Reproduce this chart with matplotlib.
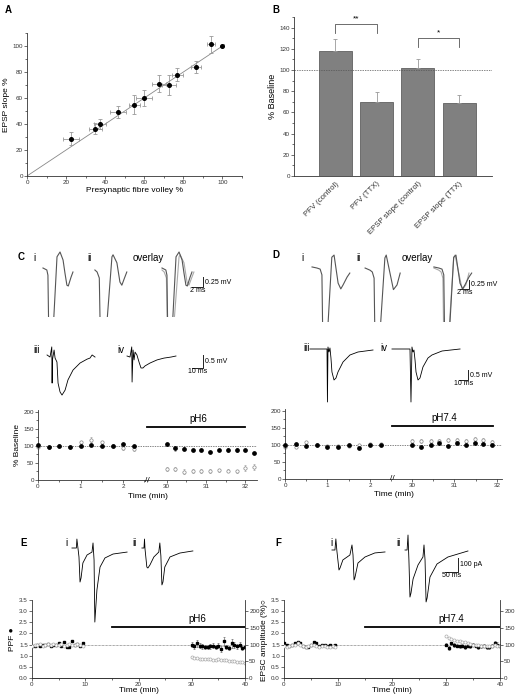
import numpy as np
import matplotlib
matplotlib.use('Agg')
import matplotlib.pyplot as plt
from matplotlib.ticker import MultipleLocator, FormatStrFormatter

plt.rcParams['font.family'] = ['Liberation Sans', 'DejaVu Sans']
plt.rcParams['font.size'] = 5
plt.rcParams['axes.linewidth'] = 0.6
plt.rcParams['axes.edgecolor'] = '#333333'

# ---------------- data ----------------
# A: EPSP slope vs presynaptic fibre volley
pfv = [22.5, 35, 37.5, 46.5, 55, 60, 67.5, 72.5, 77, 86.5, 94, 100]
pfv_err = [4, 3.5, 3, 4, 3, 4, 3.5, 3.5, 3, 2.5, 2, 0]
epsp = [28.5, 36.5, 40, 49.5, 55, 60, 71, 70, 78, 84, 101.5, 100]
epsp_err = [5, 4.5, 3.5, 4.5, 7.5, 6.5, 6.5, 7.5, 5, 4.5, 6.5, 0]
unity_x = [0, 101]
unity_y = [0, 101]

# B: % baseline bars
bar_labels = ['PFV (control)', 'PFV (TTX)', 'EPSP slope (control)', 'EPSP slope (TTX)']
bar_vals = [118, 70, 102, 69]
bar_errs = [11, 9, 8, 7]
sig_pairs = [(0, 1, '**', 143), (2, 3, '*', 130)]

# C / D: time courses (filled = EPSP slope, open = PFV)
t_pre = [0, 0.25, 0.5, 0.75, 1.0, 1.25, 1.5, 1.75, 2.0, 2.25]
c_fill_pre = [103, 97, 99, 96, 101, 102, 101, 101, 105, 101]
c_open_pre = [98, 96, 101, 97, 110, 118, 110, 101, 93, 90]
c_open_pre_err = [4, 4, 3, 3, 5, 8, 5, 3, 5, 4]
c_t_post = [30, 30.22, 30.43, 30.68, 30.88, 31.1, 31.32, 31.56, 31.78, 32.0, 32.23]
c_fill_post = [104, 93, 92, 89, 87, 82, 87, 87, 88, 88, 78]
c_fill_post_err = [3, 7, 4, 3, 3, 3, 3, 6, 6, 4, 3]
c_open_post = [32, 31, 24, 26, 26, 27, 28, 27, 25, 35, 38]
c_open_post_err = [5, 6, 7, 6, 6, 6, 5, 5, 5, 10, 9]

d_fill_pre = [100, 102, 98, 100, 95, 94, 100, 90, 100, 100]
d_open_pre = [94, 94, 108, 100, 97, 97, 97, 100, 102, 102]
d_open_pre_err = [3, 3, 4, 2, 3, 3, 3, 3, 3, 3]
d_t_post = [30, 30.21, 30.45, 30.64, 30.85, 31.06, 31.27, 31.48, 31.67, 31.88]
d_fill_post = [100, 94, 100, 105, 97, 105, 100, 105, 102, 101]
d_fill_post_err = [3, 3, 3, 3, 3, 3, 3, 3, 3, 3]
d_open_post = [111, 111, 111, 111, 113, 113, 111, 116, 114, 109]
d_open_post_err = [6, 6, 6, 6, 6, 6, 6, 7, 7, 6]

# E / F: PPF (left axis) and EPSC amplitude % (right axis)
ef_t_pre = np.arange(0, 10, 0.5)
ef_t_post = np.arange(30, 40.5, 0.5)
e_ppf_pre = [1.42, 1.45, 1.48, 1.45, 1.5, 1.48, 1.52, 1.45, 1.5, 1.48,
             1.55, 1.42, 1.6, 1.38, 1.4, 1.65, 1.48, 1.52, 1.45, 1.58]
e_amp_pre = [95, 98, 100, 102, 97, 100, 103, 99, 101, 98,
             100, 102, 97, 99, 101, 100, 98, 102, 100, 96]
e_ppf_post = [1.5, 1.42, 1.55, 1.45, 1.42, 1.4, 1.4, 1.42, 1.45, 1.38, 1.45,
              1.3, 1.65, 1.4, 1.35, 1.55, 1.48, 1.42, 1.5, 1.35, 1.38]
e_ppf_post_err = [0.1, 0.12, 0.15, 0.1, 0.1, 0.08, 0.1, 0.1, 0.12, 0.1, 0.1,
                  0.12, 0.2, 0.1, 0.1, 0.2, 0.12, 0.1, 0.12, 0.1, 0.1]
e_amp_post = [62, 60, 60, 58, 58, 57, 56, 57, 55, 55, 56,
              54, 55, 53, 52, 51, 50, 49, 48, 47, 46]

f_ppf_pre = [1.55, 1.5, 1.45, 1.5, 1.55, 1.62, 1.55, 1.45, 1.4, 1.38,
             1.48, 1.6, 1.55, 1.45, 1.48, 1.5, 1.45, 1.5, 1.45, 1.48]
f_amp_pre = [95, 92, 96, 100, 98, 104, 100, 95, 92, 96,
             100, 98, 95, 92, 96, 95, 94, 92, 96, 93]
f_ppf_post = [1.5, 1.35, 1.55, 1.48, 1.45, 1.42, 1.45, 1.4, 1.45, 1.42, 1.5,
              1.45, 1.4, 1.42, 1.45, 1.38, 1.4, 1.45, 1.55, 1.5, 1.45]
f_ppf_post_err = [0.08, 0.1, 0.08, 0.08, 0.08, 0.08, 0.08, 0.08, 0.08, 0.08, 0.08,
                  0.08, 0.08, 0.08, 0.08, 0.08, 0.08, 0.08, 0.12, 0.1, 0.08]
f_amp_post = [125, 120, 118, 115, 112, 110, 108, 108, 105, 103, 100,
              100, 98, 96, 95, 97, 95, 96, 98, 95, 96]

# example traces (ms, mV) and (ms, pA)
c_fv_i_t = [0, 0.7, 0.9, 1.15, 1.45, 2.55, 3.1, 3.65, 4.0, 4.35, 4.6, 5.1, 5.45]
c_fv_i_v = [0, -0.05, -0.18, -2.6, -2.6, 0.28, 0.4, 0.2, -0.13, -0.43, -0.45, -0.23, -0.1]
c_fv_ii_t = [0, 0.4, 0.8, 1.1, 1.5, 3.1, 3.3, 4.0, 4.55, 4.9, 5.3, 5.8]
c_fv_ii_v = [-0.05, -0.1, -0.25, -2.6, -2.6, 0.28, 0.33, 0.13, -0.35, -0.43, -0.28, -0.1]
c_iii_t = [0, 2.7, 4.3, 4.6, 4.9, 6.4, 7.3, 9, 10, 11.8, 13.6, 16.4, 19, 23.6, 30, 36.4, 39, 41, 43.6]
c_iii_v = [0.04, -0.04, 0.35, -1.04, -0.15, 0.23, -0.08, -0.23, -1.04, -1.38, -1.5,
           -1.31, -0.92, -0.54, -0.27, -0.12, -0.08, 0.04, -0.04]
c_iv_t = [0, 2.7, 4.3, 4.6, 5.5, 6.4, 7.3, 9, 10.9, 12.7, 14.5, 16.4, 20.9, 27.3, 33.6, 40, 44.5]
c_iv_v = [0, -0.04, 0.35, -1.0, 0.23, -0.15, 0.15, 0.04, -0.23, -0.46, -0.46, -0.38,
          -0.27, -0.15, -0.08, -0.04, 0]

d_fv_i_t = [0, 1.1, 1.8, 2.2, 2.5, 2.9, 4.4, 4.9, 5.8, 6.4, 6.9, 7.8, 8.4]
d_fv_i_v = [0.03, 0, -0.03, -0.19, -3.0, -3.0, 0.3, 0.36, -0.42, -0.58, -0.47, -0.25, -0.14]
d_fv_ii_t = [0, 1.1, 1.6, 2.0, 2.3, 2.7, 4.4, 4.7, 6.0, 6.3, 7.1, 7.8]
d_fv_ii_v = [0, -0.06, -0.11, -0.28, -3.0, -3.0, 0.28, 0.36, -0.42, -0.6, -0.47, -0.14]
d_iii_t = [0, 18.9, 19.4, 20, 21.1, 22.2, 23.3, 24.4, 26.7, 28.9, 31.1, 36.7, 44.4, 53.3, 70]
d_iii_v = [0, 0, -2.65, 0.1, -0.15, 0.05, -0.45, -1.15, -1.55, -1.45, -1.15, -0.65, -0.3, -0.15, -0.05]
d_iv_t = [0, 20, 21.1, 22.2, 23.3, 24.4, 25.6, 26.7, 28.9, 31.1, 34.4, 40, 44.4, 55.6, 75.6]
d_iv_v = [0, 0, -2.65, 0.1, -0.15, -0.05, -0.55, -1.15, -1.55, -1.45, -0.9, -0.45, -0.3, -0.1, 0]

e_i_t = [0, 17, 19, 23, 27, 31, 35, 42, 58, 77, 81, 85, 88, 96, 108, 127, 158, 212]
e_i_v = [0, 0, 64, 0, -64, -243, -214, -107, -50, -29, 36, -86, -529, -300, -136, -71, -43, -29]
e_ii_t = [0, 8, 10, 12, 19, 23, 31, 46, 65, 69, 73, 77, 81, 88, 108, 146, 196]
e_ii_v = [0, 0, 64, -7, -136, -143, -121, -64, -29, 36, -57, -264, -243, -136, -64, -36, -21]
f_i_t = [0, 11.5, 15, 19, 27, 31, 42, 69, 77, 81, 85, 88, 100, 127, 165, 204]
f_i_v = [0, 0, 79, -7, -143, -129, -71, -36, 36, -36, -214, -200, -93, -50, -21, -14]
f_ii_t = [0, 8, 11.5, 15, 19, 23, 31, 50, 69, 73, 77, 81, 85, 96, 123, 165, 242]
f_ii_v = [0, 0, 107, -71, -336, -307, -207, -107, -50, 36, -71, -371, -343, -193, -100, -50, -7]

W, H = 515, 699
fig = plt.figure(figsize=(W / 100, H / 100), dpi=100)

GREY = '#888888'


def px_axes(x0, y0, x1, y1):
    return fig.add_axes([x0 / W, 1 - y1 / H, (x1 - x0) / W, (y1 - y0) / H])


def style(ax, right=False):
    for s in ['top', 'right'] if not right else ['top', 'left']:
        ax.spines[s].set_visible(False)
    ax.tick_params(which='both', direction='out', width=0.5, labelsize=4.5, pad=1,
                   colors='#333333')
    ax.tick_params(which='major', length=2)
    ax.tick_params(which='minor', length=1.2)
    ax.patch.set_alpha(0)


def trace_ax(x0, y0, x1, y1, xlim, ylim):
    ax = px_axes(x0, y0, x1, y1)
    ax.set_xlim(*xlim)
    ax.set_ylim(*ylim)
    ax.axis('off')
    return ax


def scalebar(ax, x, y, dx, dy, xlab, ylab, fs=5):
    ax.plot([x - dx, x, x], [y, y, y + dy], color='#222222', lw=0.7, clip_on=False)
    ax.text(x, y + dy / 2, ' ' + ylab, fontsize=fs, va='center', ha='left')
    ax.text(x - dx / 2, y, xlab, fontsize=fs, va='top', ha='center')


# ---------------- A ----------------
axA = px_axes(27, 33, 242, 176)
style(axA)
axA.plot(unity_x, unity_y, color='#888888', lw=0.6)
axA.errorbar(pfv, epsp, xerr=pfv_err, yerr=epsp_err, fmt='o', color='black', ms=2.6,
             ecolor='#999999', elinewidth=0.6, capsize=1.2, capthick=0.6)
axA.set_xlim(0, 110)
axA.set_ylim(0, 110)
axA.xaxis.set_major_locator(MultipleLocator(20))
axA.xaxis.set_minor_locator(MultipleLocator(10))
axA.yaxis.set_major_locator(MultipleLocator(20))
axA.yaxis.set_minor_locator(MultipleLocator(10))
axA.set_xlabel('Presynaptic fibre volley %', fontsize=6, labelpad=1)
axA.set_ylabel('EPSP slope %', fontsize=6, labelpad=2)
fig.text(5 / W, 1 - 10 / H, 'A', fontsize=7, fontweight='bold', va='center')

# ---------------- B ----------------
axB = px_axes(294, 17, 492, 176)
style(axB)
xb = np.arange(1, len(bar_vals) + 1)
axB.bar(xb, bar_vals, width=0.8, color='#808080', edgecolor='#606060', lw=0.6)
axB.errorbar(xb, bar_vals, yerr=[np.zeros(len(bar_errs)), bar_errs], fmt='none',
             ecolor='#999999', elinewidth=0.6, capsize=1.2, capthick=0.6)
axB.axhline(100, color='#555555', lw=0.5, ls=(0, (2, 1.5)))
for a, b, star, top in sig_pairs:
    axB.plot([xb[a], xb[a], xb[b], xb[b]], [top - 8, top, top, top - 8], color='#555555', lw=0.6)
    axB.text((xb[a] + xb[b]) / 2, top + 2, star, ha='center', va='bottom', fontsize=6)
axB.set_xlim(0, 4.8)
axB.set_ylim(0, 150)
axB.set_xticks(xb)
axB.set_xticklabels(bar_labels, rotation=45, ha='right', rotation_mode='anchor', fontsize=5.6)
axB.tick_params(axis='x', length=0, pad=3)
axB.yaxis.set_major_locator(MultipleLocator(20))
axB.yaxis.set_minor_locator(MultipleLocator(10))
axB.set_ylabel('% Baseline', fontsize=6.5, labelpad=2)
fig.text(272 / W, 1 - 10 / H, 'B', fontsize=7, fontweight='bold', va='center')


# ---------------- C / D time courses ----------------
def timecourse(xl, xm, x1, y0, y1, fill_pre, open_pre, open_pre_err,
               t_post, fill_post, fill_post_err, open_post, open_post_err,
               left_lim, right_lim, ph_label, ph_end, ylabel):
    axl = px_axes(xl, y0, xm, y1)
    axr = px_axes(xm, y0, x1, y1)
    style(axl)
    style(axr)
    axr.spines['left'].set_visible(False)
    axr.tick_params(axis='y', left=False, labelleft=False)
    for ax in (axl, axr):
        ax.set_ylim(0, 205)
        ax.axhline(100, color='#555555', lw=0.5, ls=(0, (2, 1.5)), zorder=1)
        ax.xaxis.set_minor_locator(MultipleLocator(0.5))
    axl.set_xlim(*left_lim)
    axr.set_xlim(*right_lim)
    axl.set_xticks([0, 1, 2])
    axr.set_xticks([30, 31, 32])
    axl.yaxis.set_major_locator(MultipleLocator(50))
    axl.yaxis.set_minor_locator(MultipleLocator(25))
    axl.errorbar(t_pre, open_pre, yerr=open_pre_err, fmt='o', ms=2.4, mfc='white', mec=GREY,
                 mew=0.5, ecolor='#aaaaaa', elinewidth=0.5, capsize=1, capthick=0.5, clip_on=False)
    axl.plot(t_pre, fill_pre, 'o', color='black', ms=2.4, clip_on=False, zorder=4)
    axr.errorbar(t_post, open_post, yerr=open_post_err, fmt='o', ms=2.4, mfc='white', mec=GREY,
                 mew=0.5, ecolor='#aaaaaa', elinewidth=0.5, capsize=1, capthick=0.5, clip_on=False)
    axr.errorbar(t_post, fill_post, yerr=fill_post_err, fmt='o', ms=2.4, color='black',
                 ecolor='#888888', elinewidth=0.5, capsize=1, capthick=0.5, clip_on=False)
    axr.plot([right_lim[0], ph_end], [155, 155], color='black', lw=1.3, clip_on=False)
    axr.text((right_lim[0] + ph_end) / 2 + 0.05, 163, ph_label, ha='center', va='bottom', fontsize=7)
    axl.text(1.0, 0, '//', transform=axl.transAxes, ha='center', va='center', fontsize=6)
    axl.set_ylabel(ylabel, fontsize=6, labelpad=2)
    fig.text((xl + x1) / 2 / W, 1 - (y1 + 16) / H, 'Time (min)', ha='center', va='center', fontsize=6)
    return axl, axr


timecourse(38, 147, 257, 410, 480, c_fill_pre, c_open_pre, c_open_pre_err,
           c_t_post, c_fill_post, c_fill_post_err, c_open_post, c_open_post_err,
           (0, 2.56), (29.5, 32.3), 'pH6', 32.0, '% Baseline')
timecourse(285, 392, 502, 409, 479, d_fill_pre, d_open_pre, d_open_pre_err,
           d_t_post, d_fill_post, d_fill_post_err, d_open_post, d_open_post_err,
           (0, 2.52), (29.53, 32.12), 'pH7.4', 31.9, '')

# ---------------- C / D traces ----------------
TR = '#555555'
fig.text(18 / W, 1 - 257 / H, 'C', fontsize=7, fontweight='bold', va='center')
axc1 = trace_ax(30, 245, 250, 317, (0, 40), (-1.225, 0.575))
axc1.plot(np.add(c_fv_i_t, 2.36), c_fv_i_v, color=TR, lw=0.8)
axc1.plot(np.add(c_fv_ii_t, 11.8), c_fv_ii_v, color=TR, lw=0.8)
axc1.plot(np.add(c_fv_ii_t, 24.0), c_fv_ii_v, color='#aaaaaa', lw=0.8)
axc1.plot(np.add(c_fv_i_t, 24.0), c_fv_i_v, color=TR, lw=0.8)
scalebar(axc1, 31.5, -0.475, 2, 0.25, '2 ms', '0.25 mV')
for x, lab in [(0.6, 'i'), (10.4, 'ii'), (18.6, 'overlay')]:
    axc1.text(x, 0.26, lab, fontsize=7, va='center')

axc2 = trace_ax(30, 340, 250, 400, (0, 200), (-1.69, 0.615))
axc2.plot(np.add(c_iii_t, 15.5), c_iii_v, color='black', lw=0.6)
axc2.plot(np.add(c_iv_t, 88.2), c_iv_v, color='black', lw=0.6)
scalebar(axc2, 157.3, -0.46, 10, 0.5, '10 ms', '0.5 mV')
for x, lab in [(2.7, 'iii'), (79, 'iv')]:
    axc2.text(x, 0.23, lab, fontsize=7, va='center')

fig.text(272 / W, 1 - 255 / H, 'D', fontsize=7, fontweight='bold', va='center')
axd1 = trace_ax(290, 245, 500, 322, (0, 46.7), (-1.5, 0.64))
axd1.plot(np.add(d_fv_i_t, 4.9), d_fv_i_v, color=TR, lw=0.8)
axd1.plot(np.add(d_fv_ii_t, 16.7), d_fv_ii_v, color=TR, lw=0.8)
axd1.plot(np.add(d_fv_ii_t, 32.0), d_fv_ii_v, color='#aaaaaa', lw=0.8)
axd1.plot(np.add(d_fv_i_t, 32.0), d_fv_i_v, color=TR, lw=0.8)
scalebar(axd1, 39.8, -0.58, 2, 0.25, '2 ms', '0.25 mV')
for x, lab in [(2.6, 'i'), (14.7, 'ii'), (24.9, 'overlay')]:
    axd1.text(x, 0.28, lab, fontsize=7, va='center')

axd2 = trace_ax(290, 340, 500, 405, (0, 233.3), (-2.8, 0.45))
axd2.plot(np.add(d_iii_t, 22.2), d_iii_v, color='black', lw=0.6)
axd2.plot(np.add(d_iv_t, 113.3), d_iv_v, color='black', lw=0.6)
scalebar(axd2, 197.8, -1.55, 10, 0.5, '10 ms', '0.5 mV')
for x, lab in [(14.4, 'iii'), (100, 'iv')]:
    axd2.text(x, 0.05, lab, fontsize=7, va='center')


# ---------------- E / F ----------------
def ppf_panel(x0, x1, ppf_pre, amp_pre, ppf_post, ppf_post_err, amp_post, ph_label):
    ax = px_axes(x0, 600, x1, 678)
    style(ax)
    ax.set_xlim(0, 40)
    ax.set_ylim(0, 3.5)
    ax.xaxis.set_major_locator(MultipleLocator(10))
    ax.xaxis.set_minor_locator(MultipleLocator(5))
    ax.yaxis.set_major_locator(MultipleLocator(0.5))
    ax.yaxis.set_major_formatter(FormatStrFormatter('%.1f'))
    ax.axhline(1.5, color='#555555', lw=0.5, ls=(0, (1, 1)))
    axr = ax.twinx()
    style(axr, right=True)
    axr.set_ylim(0, 233.3)
    axr.yaxis.set_major_locator(MultipleLocator(50))
    axr.plot(ef_t_pre, amp_pre, 'o', ms=2.2, mfc='white', mec='#aaaaaa', mew=0.5)
    axr.plot(ef_t_post, amp_post, 'o', ms=2.2, mfc='white', mec='#aaaaaa', mew=0.5)
    ax.plot(ef_t_pre, ppf_pre, 's', color='black', ms=1.6, zorder=5)
    ax.errorbar(ef_t_post, ppf_post, yerr=ppf_post_err, fmt='s', color='black', ms=1.6,
                ecolor='#555555', elinewidth=0.4, capsize=0.8, capthick=0.4, zorder=5)
    ax.plot([15, 40], [2.3, 2.3], color='black', lw=1.3)
    ax.text(31, 2.42, ph_label, ha='center', va='bottom', fontsize=7)
    ax.set_xlabel('Time (min)', fontsize=6, labelpad=0)
    return ax, axr


axE, axEr = ppf_panel(32, 245, e_ppf_pre, e_amp_pre, e_ppf_post, e_ppf_post_err, e_amp_post, 'pH6')
axE.set_ylabel('PPF \u25cf', fontsize=6, labelpad=2)
fig.text(265 / W, 1 - 640 / H, 'EPSC amplitude (%)\u25cb', rotation=90, ha='center', va='center', fontsize=6)
axF, axFr = ppf_panel(284, 500, f_ppf_pre, f_amp_pre, f_ppf_post, f_ppf_post_err, f_amp_post, 'pH7.4')

fig.text(20 / W, 1 - 543 / H, 'E', fontsize=7, fontweight='bold', va='center')
fig.text(275 / W, 1 - 543 / H, 'F', fontsize=7, fontweight='bold', va='center')

axe = trace_ax(60, 530, 255, 630, (0, 750), (-585.7, 128.6))
axe.plot(np.add(e_i_t, 46), e_i_v, color='black', lw=0.6)
axe.plot(np.add(e_ii_t, 315), e_ii_v, color='black', lw=0.6)
axe.text(20, 36, 'i', fontsize=7, va='center')
axe.text(280, 36, 'ii', fontsize=7, va='center')

axf = trace_ax(320, 525, 480, 610, (0, 615.4), (-428.6, 178.6))
axf.plot(np.add(f_i_t, 46), f_i_v, color='black', lw=0.6)
axf.plot(np.add(f_ii_t, 327), f_ii_v, color='black', lw=0.6)
axf.text(38, 50, 'i', fontsize=7, va='center')
axf.text(292, 50, 'ii', fontsize=7, va='center')
scalebar(axf, 530.8, -157, 50, 100, '50 ms', '100 pA')

fig.savefig('out.png', dpi=100)
